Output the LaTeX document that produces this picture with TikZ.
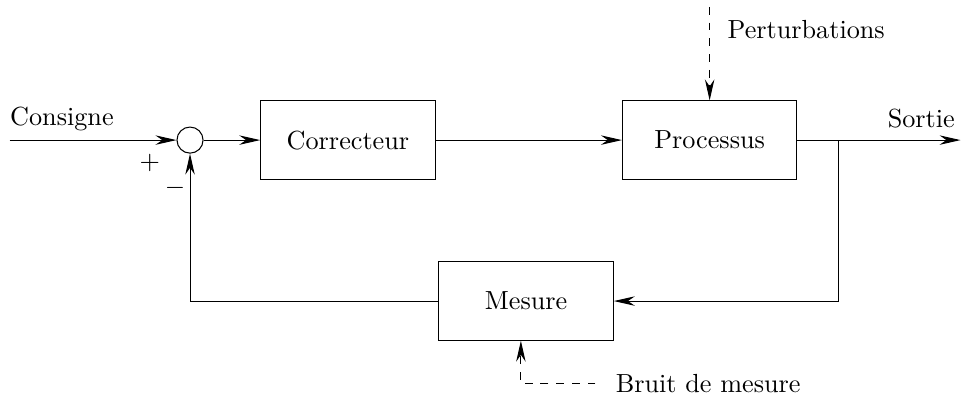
\documentclass[tikz,border=0pt]{standalone}
\usetikzlibrary{positioning,arrows.meta}

\begin{document}
\begin{tikzpicture}[->,>={Stealth[length=8pt,width=3.6pt,inset=2.6pt]},auto,node distance=0.8cm,
    block/.style={rectangle,draw,minimum width=2.34cm,minimum height=1.05cm},
    sum/.style={circle,draw,minimum size=0.35cm,inner sep=0pt}]
  \useasboundingbox (0,0) rectangle (12.99,-5.29);

  \node[sum]   (s) at (2.55,-1.88)           {};
  \node[block] (corr) [right=0.76cm of s]    {Correcteur};
  \node[block] (proc) [right=2.5cm of corr]  {Processus};
  \node[block] (mes) at (7.06,-4.04)         {Mesure};

  % entree, sortie et retour
  \coordinate (in)  at (0.13,-1.88);
  \coordinate (br)  at (11.25,-1.88);
  \coordinate (out) at (12.89,-1.88);

  \node[anchor=south west,inner xsep=0pt] (consigne) at (in) {Consigne};
  \node[anchor=south east,inner xsep=0pt,yshift=0.04cm] (sortie) at ([xshift=-0.07cm]out) {Sortie};
  \node (plus)  at (2.01,-2.19) {$+$};
  \node (moins) at (2.35,-2.52) {$-$};

  \node[anchor=west] (pert)  at (9.64,-0.40) {Perturbations};
  \node[anchor=west] (bruit) at (8.14,-5.15) {Bruit de mesure};
  \coordinate (p0) at ([yshift=1.255cm]proc.north);
  \coordinate (b0) at ([xshift=-0.15cm]bruit.west);

  \draw (in) -- (s);
  \draw (s) -- (corr);
  \draw (corr) -- (proc);
  \draw (proc.east) -- (out);
  \draw (br) |- (mes.east);
  \draw (mes.west) -| (s.south);
  \draw[dashed] (p0) -- (proc.north);
  \draw[dashed] (b0) -| ([xshift=-0.07cm]mes.south);
\end{tikzpicture}
\end{document}
